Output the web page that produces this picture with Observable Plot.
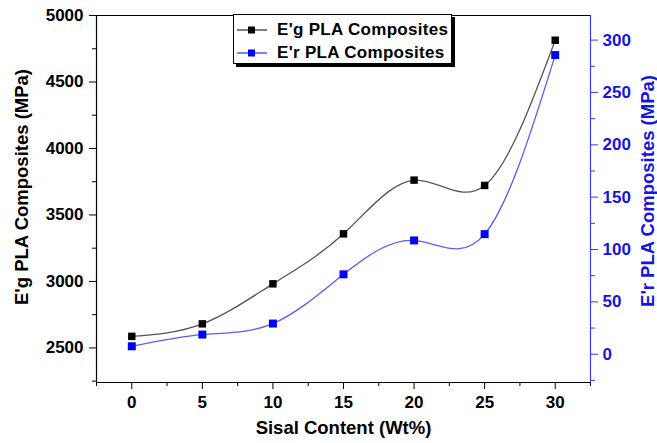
<!DOCTYPE html>
<html><head><meta charset="utf-8">
<script src="https://cdn.jsdelivr.net/npm/d3@7"></script>
<script src="https://cdn.jsdelivr.net/npm/@observablehq/plot@0.6"></script>
<style>
body{margin:0;background:#fff;}
#wrap{position:relative;width:657px;height:443px;font-family:"Liberation Sans",Arial,sans-serif;}
#legend{position:absolute;left:233px;top:14px;width:217px;height:48px;border:1px solid #000;box-shadow:3px 3px 0 #000;background:#fff;font-weight:bold;font-size:17px;letter-spacing:0.3px;}
.row{position:absolute;left:3px;height:20px;display:flex;align-items:center;white-space:nowrap;}
</style></head><body><div id="wrap"></div>
<script>
const sisal = [0, 5, 10, 15, 20, 25, 30];
const egValues = [2587, 2681, 2982, 3358, 3762, 3722, 4814];
const erValues = [7.6, 18.8, 29.3, 76.3, 108.7, 114.7, 285.7];
const seriesNames = ["E'g PLA Composites", "E'r PLA Composites"];
const axisTitles = ["E'g PLA Composites (MPa)", "E'r PLA Composites (MPa)", "Sisal Content (Wt%)"];
const leftTicks = [2500, 3000, 3500, 4000, 4500, 5000];
const leftMinor = [2250, 2750, 3250, 3750, 4250, 4750];
const rightTicks = [0, 50, 100, 150, 200, 250, 300];
const rightMinor = [-25, 25, 75, 125, 175, 225, 275];
const xTicks = [0, 5, 10, 15, 20, 25, 30];
const xMinor = [-2.5, 2.5, 7.5, 12.5, 17.5, 22.5, 27.5, 32.5];
const leftDomain = [2240, 5000], rightDomain = [-27, 323.5], xDomain = [-2.5, 32.5];
const blackLine = "#555", blueLine = "#5a5aff", blueMark = "#0000ff", blueText = "#1414e6", blueAxis = "#3a3aff";

const toLeft = r => leftDomain[0] + (r - rightDomain[0]) * (leftDomain[1] - leftDomain[0]) / (rightDomain[1] - rightDomain[0]);
const fromLeft = v => rightDomain[0] + (v - leftDomain[0]) * (rightDomain[1] - rightDomain[0]) / (leftDomain[1] - leftDomain[0]);
const egData = sisal.map((x, i) => ({x, y: egValues[i]}));
const erData = sisal.map((x, i) => ({x, y: toLeft(erValues[i])}));

const chart = Plot.plot({
  width: 657, height: 443,
  marginLeft: 96, marginRight: 67, marginTop: 15, marginBottom: 61,
  style: {fontFamily: "'Liberation Sans', Arial, sans-serif", fontWeight: "bold", fontSize: "17px", color: "#000", background: "#fff", overflow: "visible"},
  x: {domain: xDomain},
  y: {domain: leftDomain},
  marks: [
    Plot.ruleY([leftDomain[1]], {stroke: "#000", strokeWidth: 1.2}),
    Plot.ruleY([leftDomain[0]], {stroke: "#000", strokeWidth: 1.2}),
    Plot.ruleX([xDomain[0]], {stroke: "#000", strokeWidth: 1.2}),
    Plot.ruleX([xDomain[1]], {stroke: blueAxis, strokeWidth: 1.2}),
    Plot.axisY(leftTicks, {anchor: "left", tickSize: 7, tickPadding: 6, tickFormat: d => String(d), label: null, fontSize: 17}),
    Plot.axisY(leftMinor, {anchor: "left", tickSize: 4, tickFormat: () => "", label: null}),
    Plot.axisY(rightTicks.map(toLeft), {anchor: "right", tickSize: 7, tickPadding: 5, stroke: blueAxis, fill: blueText, tickFormat: d => String(Math.round(fromLeft(d))), label: null, fontSize: 17}),
    Plot.axisY(rightMinor.map(toLeft), {anchor: "right", tickSize: 4, stroke: blueAxis, tickFormat: () => "", label: null}),
    Plot.axisX(xTicks, {anchor: "bottom", tickSize: 7, tickPadding: 6, tickFormat: d => String(d), label: null, fontSize: 17}),
    Plot.axisX(xMinor, {anchor: "bottom", tickSize: 4, tickFormat: () => "", label: null}),
    Plot.text([axisTitles[0]], {frameAnchor: "left", text: d => d, rotate: -90, dx: -74, dy: -12, fontSize: 18.5, fontWeight: "bold", fill: "#000", textAnchor: "middle", lineAnchor: "middle"}),
    Plot.text([axisTitles[1]], {frameAnchor: "right", text: d => d, rotate: -90, dx: 58, dy: -8, fontSize: 18.5, fontWeight: "bold", fill: blueText, textAnchor: "middle", lineAnchor: "middle"}),
    Plot.text([axisTitles[2]], {frameAnchor: "bottom", text: d => d, dy: 46, fontSize: 18.5, fontWeight: "bold", fill: "#000", textAnchor: "middle", lineAnchor: "middle"}),
    Plot.line(egData, {x: "x", y: "y", curve: "natural", stroke: blackLine, strokeWidth: 1.3}),
    Plot.line(erData, {x: "x", y: "y", curve: "natural", stroke: blueLine, strokeWidth: 1.3}),
    Plot.dot(egData, {x: "x", y: "y", symbol: "square", r: 4.2, fill: "#000"}),
    Plot.dot(erData, {x: "x", y: "y", symbol: "square", r: 4.5, fill: blueMark})
  ]
});
const wrap = document.getElementById("wrap");
wrap.appendChild(chart);

const legend = document.createElement("div");
legend.id = "legend";
const rowsInfo = [{name: seriesNames[0], line: "#000", mark: "#000", top: 5}, {name: seriesNames[1], line: blueMark, mark: blueMark, top: 28}];
for (const r of rowsInfo) {
  const row = document.createElement("div");
  row.className = "row";
  row.style.top = r.top + "px";
  row.innerHTML = `<svg width="30" height="10"><line x1="0" y1="5" x2="30" y2="5" stroke="${r.line}" stroke-width="1"/><rect x="11" y="1.5" width="7" height="7" fill="${r.mark}"/></svg><span>${r.name}</span>`;
  row.querySelector("svg").style.marginRight = "10px";
  legend.appendChild(row);
}
wrap.appendChild(legend);
</script>
</body></html>
